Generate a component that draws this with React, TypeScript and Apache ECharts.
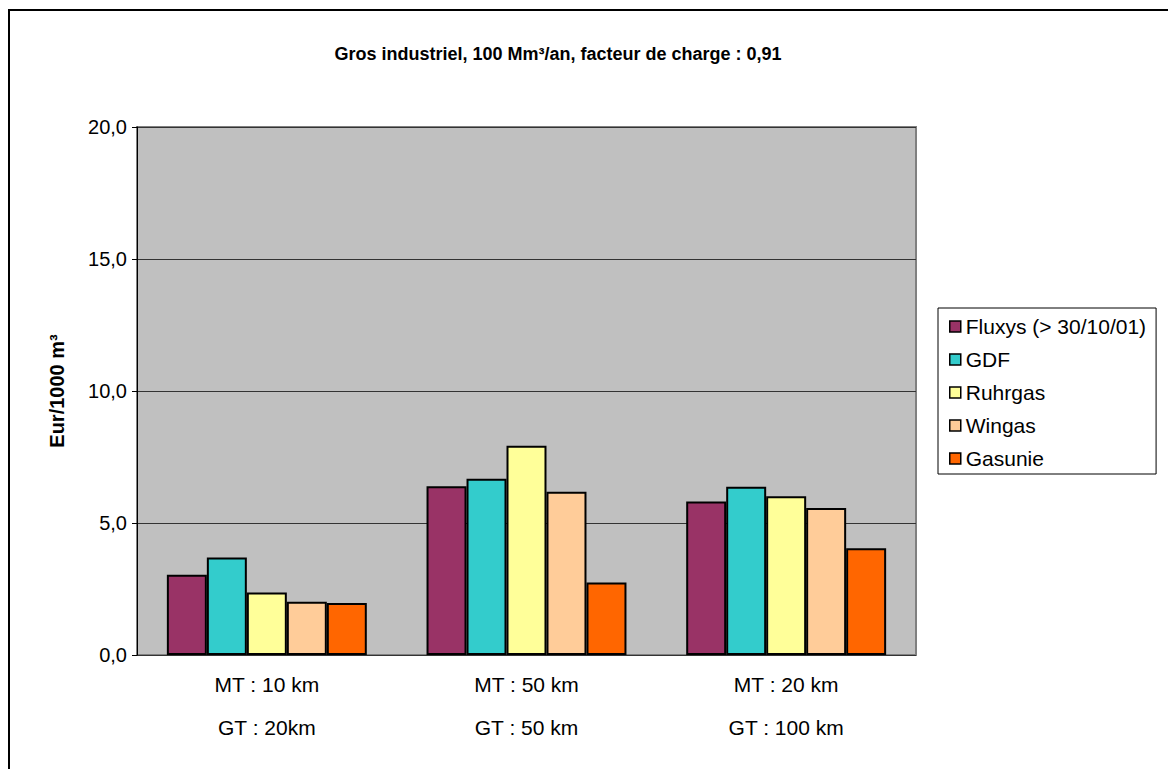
import React, { useEffect, useRef } from "react";
import * as echarts from "echarts";

const categories = [
  ["MT : 10 km", "GT : 20km"],
  ["MT : 50 km", "GT : 50 km"],
  ["MT : 20 km", "GT : 100 km"],
];
const seriesNames = ["Fluxys (> 30/10/01)", "GDF", "Ruhrgas", "Wingas", "Gasunie"];
const fluxys = [3.04, 6.39, 5.81];
const gdf = [3.69, 6.68, 6.37];
const ruhrgas = [2.37, 7.93, 6.01];
const wingas = [2.02, 6.18, 5.57];
const gasunie = [1.97, 2.75, 4.04];
const colors = ["#993366", "#33CCCC", "#FFFF99", "#FFCC99", "#FF6600"];
const yTicks = [0, 5, 10, 15, 20];

export default function App() {
  const ref = useRef<HTMLDivElement>(null);
  useEffect(() => {
    if (!ref.current) return;
    const chart = echarts.init(ref.current, null, { renderer: "svg" });
    const values = [fluxys, gdf, ruhrgas, wingas, gasunie];
    const font = "Arial, 'Liberation Sans', sans-serif";
    chart.setOption({
      animation: false,
      backgroundColor: "#fff",
      textStyle: { fontFamily: font },
      graphic: [
        {
          type: "rect",
          shape: { x: 9, y: 10, width: 1200, height: 800 },
          style: { fill: "none", stroke: "#000", lineWidth: 2 },
          silent: true,
        },
      ],
      title: {
        text: "Gros industriel, 100 Mm³/an, facteur de charge : 0,91",
        left: 553,
        top: 40,
        textAlign: "center",
        textStyle: { fontSize: 18, fontWeight: "bold", color: "#000", fontFamily: font },
      },
      grid: {
        left: 137,
        top: 127,
        right: 252,
        bottom: 114,
        show: true,
        backgroundColor: "#C0C0C0",
        borderColor: "#808080",
        borderWidth: 2,
      },
      legend: {
        orient: "vertical",
        left: 938,
        top: 308,
        padding: [8, 10, 5, 11],
        borderColor: "#000",
        borderWidth: 1,
        backgroundColor: "#fff",
        itemWidth: 11,
        itemHeight: 11,
        itemGap: 12,
        icon: "rect",
        itemStyle: { borderColor: "#000", borderWidth: 1.5 },
        textStyle: { fontSize: 21, lineHeight: 21, color: "#000", fontFamily: font },
        data: seriesNames,
      },
      xAxis: {
        type: "category",
        data: categories.map((c) => c.join("\n")),
        axisLine: { show: false },
        axisTick: { show: false },
        axisLabel: {
          color: "#000",
          fontSize: 21,
          lineHeight: 43,
          margin: 8,
          fontFamily: font,
        },
      },
      yAxis: {
        type: "value",
        min: yTicks[0],
        max: yTicks[yTicks.length - 1],
        interval: 5,
        name: "Eur/1000 m³",
        nameLocation: "middle",
        nameRotate: 90,
        nameGap: 70,
        nameTextStyle: { fontSize: 20, fontWeight: "bold", color: "#000", fontFamily: font },
        axisLine: { show: true, lineStyle: { color: "#000", width: 1 } },
        axisTick: { show: true, length: 5, lineStyle: { color: "#000" } },
        axisLabel: {
          color: "#000",
          fontSize: 20,
          margin: 10,
          fontFamily: font,
          formatter: (v: number) => v.toFixed(1).replace(".", ","),
        },
        splitLine: { show: true, lineStyle: { color: "#333", width: 1 } },
      },
      series: seriesNames.map((name, i) => ({
        name,
        type: "bar",
        data: values[i],
        barGap: "0%",
        barCategoryGap: "23%",
        itemStyle: { color: colors[i], borderColor: "#000", borderWidth: 2 },
      })),
    });
    return () => chart.dispose();
  }, []);
  return <div ref={ref} style={{ width: 1168, height: 769, position: "absolute", left: 0, top: 0 }} />;
}
